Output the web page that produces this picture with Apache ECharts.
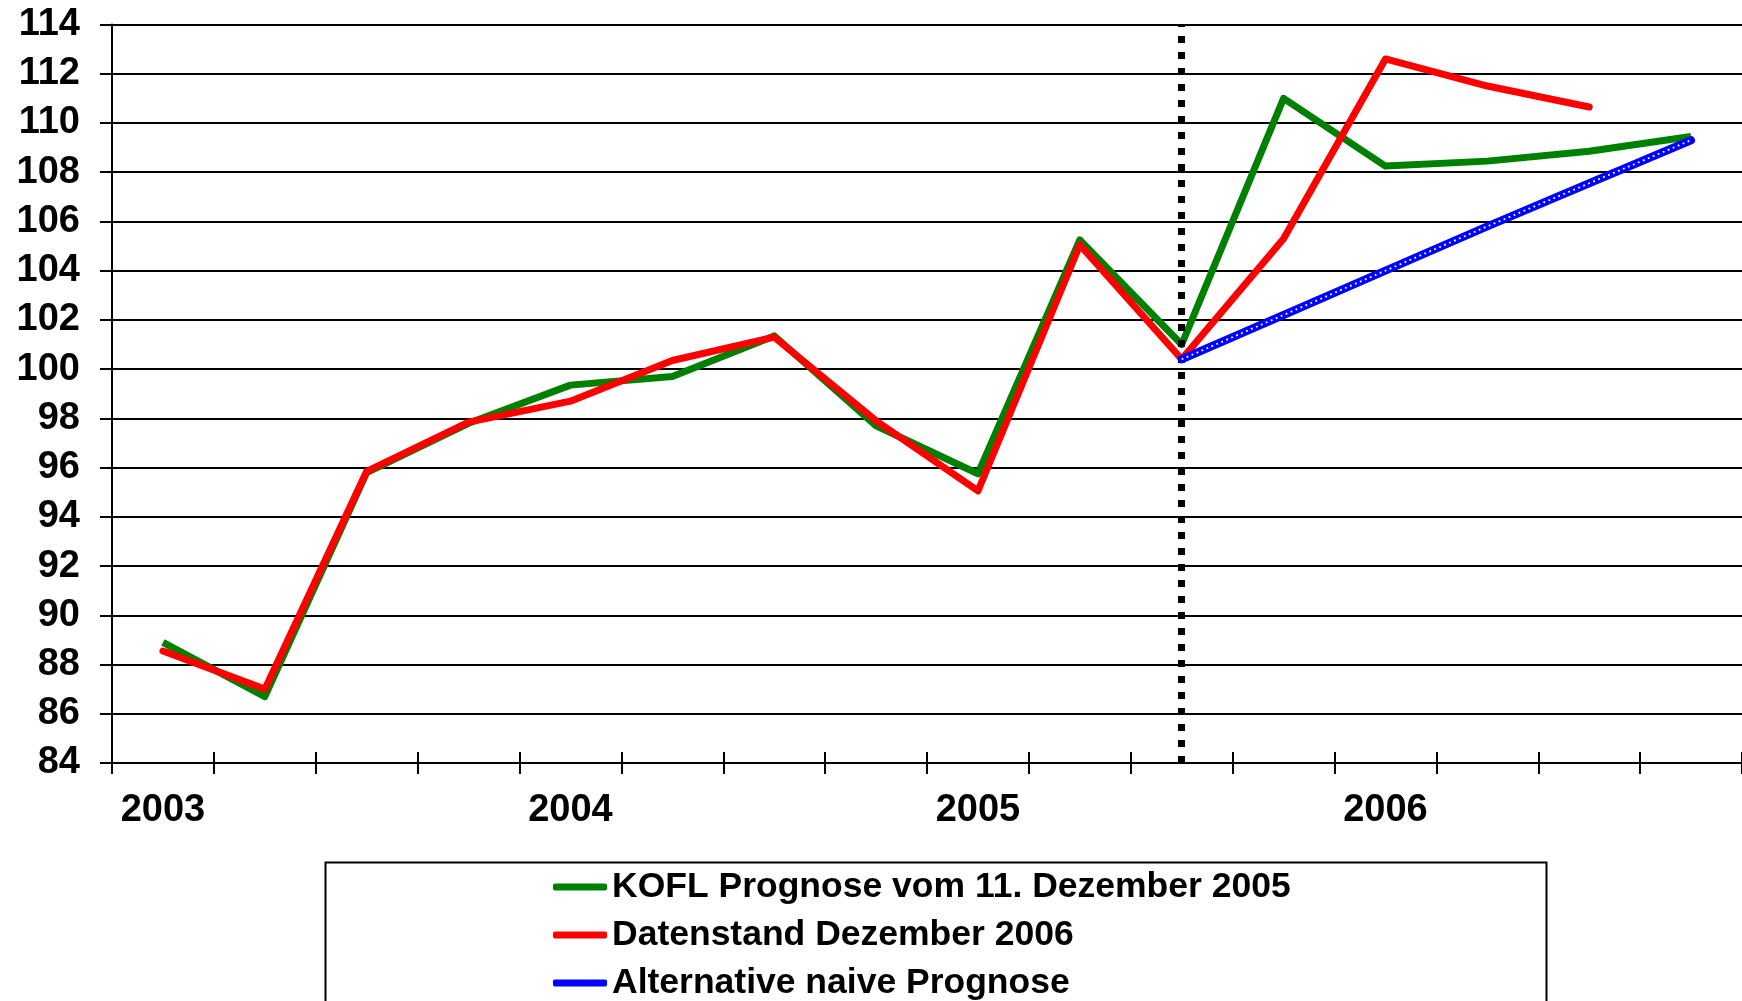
<!DOCTYPE html>
<html lang="de">
<head>
    <meta charset="UTF-8">
    <title>KOFL Prognose</title>
    <script src="https://cdn.jsdelivr.net/npm/echarts@6/dist/echarts.min.js"></script>
    <style>
        html, body { margin: 0; padding: 0; background: #fff; }
        #main { width: 1742px; height: 1001px; }
    </style>
</head>
<body>
<div id="main"></div>
<script type="text/javascript">
    // Quartale 2003 Q1 .. 2006 Q4
    var quarters = ['2003 Q1','2003 Q2','2003 Q3','2003 Q4',
                    '2004 Q1','2004 Q2','2004 Q3','2004 Q4',
                    '2005 Q1','2005 Q2','2005 Q3','2005 Q4',
                    '2006 Q1','2006 Q2','2006 Q3','2006 Q4'];
    var yearLabels = ['2003','','','','2004','','','','2005','','','','2006','','',''];

    var kofl       = [88.9, 86.7, 95.8, 97.8, 99.35, 99.7, 101.35, 97.7, 95.75, 105.25, 101.0, 111.0, 108.25, 108.45, 108.85, 109.45];
    var datenstand = [88.55, 87.0, 95.85, 97.85, 98.7, 100.35, 101.3, 97.9, 95.05, 105.05, 100.4, 105.3, 112.6, 111.5, 110.65, null];
    var naive      = [null, null, null, null, null, null, null, null, null, null, 100.4, 102.2, 104.0, 105.8, 107.55, 109.3];

    // Prognosezeitpunkt (senkrechte Linie)
    var cutQuarter = '2005 Q3';

    var names = ['KOFL Prognose vom 11. Dezember 2005', 'Datenstand Dezember 2006', 'Alternative naive Prognose'];

    var font = '"Liberation Sans", Arial, sans-serif';
    var myChart = echarts.init(document.getElementById('main'));

    myChart.setOption({
        animation: false,
        backgroundColor: '#fff',
        grid: { left: 112, right: -3, top: 24.5, bottom: 238, containLabel: false },
        // Rahmen der Legende (laeuft unten aus dem Bild)
        graphic: [{
            type: 'rect',
            left: 323,
            top: 860,
            shape: { width: 1221, height: 200 },
            style: { fill: 'none', stroke: '#000', lineWidth: 2 },
            silent: true
        }],
        legend: {
            data: names,
            orient: 'vertical',
            left: 553,
            top: 869,
            padding: 0,
            itemGap: 12,
            itemWidth: 54,
            itemHeight: 7,
            icon: 'roundRect',
            textStyle: { fontFamily: font, fontSize: 35.5, fontWeight: 'bold', color: '#000', lineHeight: 36 }
        },
        xAxis: [{
            type: 'category',
            data: quarters,
            boundaryGap: true,
            axisLine: { lineStyle: { color: '#000', width: 2 } },
            axisTick: { show: true, length: 11, lineStyle: { color: '#000', width: 2 } },
            axisLabel: {
                interval: 0,
                margin: 29,
                fontFamily: font, fontSize: 38, fontWeight: 'bold', color: '#000',
                formatter: function (v, i) { return yearLabels[i]; }
            },
            splitLine: { show: false }
        }, {
            type: 'category',
            data: quarters,
            position: 'bottom',
            boundaryGap: true,
            axisLine: { show: false },
            axisTick: { show: true, inside: true, length: 11, lineStyle: { color: '#000', width: 2 } },
            axisLabel: { show: false },
            splitLine: { show: false }
        }],
        yAxis: {
            type: 'value',
            min: 84,
            max: 114,
            interval: 2,
            axisLine: { show: true, lineStyle: { color: '#000', width: 2 } },
            axisTick: { show: true, length: 12, lineStyle: { color: '#000', width: 2 } },
            axisLabel: { margin: 32, fontFamily: font, fontSize: 38, fontWeight: 'bold', color: '#000' },
            splitLine: { show: true, lineStyle: { color: '#000', width: 2 } }
        },
        series: [{
            name: names[0],
            type: 'line',
            data: kofl,
            symbol: 'none',
            z: 3,
            color: '#008000',
            lineStyle: { color: '#008000', width: 7, join: 'round' }
        }, {
            name: names[1],
            type: 'line',
            data: datenstand,
            symbol: 'none',
            z: 4,
            color: '#ff0000',
            lineStyle: { color: '#ff0000', width: 7, cap: 'round', join: 'round' }
        }, {
            name: names[2],
            type: 'line',
            data: naive,
            symbol: 'none',
            z: 5,
            color: '#0000ff',
            lineStyle: { color: '#0000ff', width: 8, cap: 'round' }
        }, {
            name: 'naive-dots',
            type: 'line',
            data: naive,
            symbol: 'none',
            z: 6,
            silent: true,
            lineStyle: { color: '#fff', width: 1.8, type: [1.8, 3.6] },
            markLine: {
                silent: true,
                symbol: 'none',
                label: { show: false },
                lineStyle: { color: '#000', width: 7, type: [7, 9] },
                data: [{ xAxis: cutQuarter }]
            }
        }]
    });
</script>
</body>
</html>
